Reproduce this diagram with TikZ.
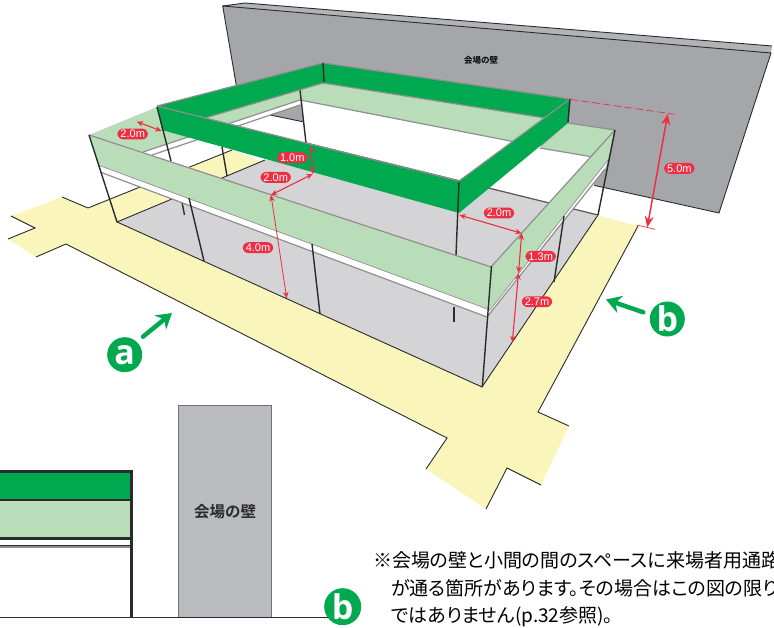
\documentclass[tikz,border=0pt]{standalone}
\usepackage{fontspec}
\setmainfont{Liberation Sans}
\newfontfamily\cjk[RawFeature={+palt}]{Noto Sans CJK JP}
\newfontfamily\cjkb{Noto Sans CJK JP Bold}
\newfontfamily\letterfont{Open Sans Bold}
\definecolor{grn}{HTML}{00A94F}
\definecolor{lgrn}{HTML}{B9DDB8}
\definecolor{ylw}{HTML}{FAF6BB}
\definecolor{flr}{HTML}{D4D4D6}
\definecolor{wal}{HTML}{A5A6AA}
\definecolor{rd}{HTML}{EC2F43}
\definecolor{edg}{HTML}{8F8F8F}
\definecolor{drk}{HTML}{2B2B2B}
\usetikzlibrary{arrows.meta}
\tikzset{
    post/.style={drk,line width=1.4pt},
    rim/.style={edg,line width=1.2pt},
    outline/.style={drk,line width=0.9pt},
    dim/.style={rd,line width=1.1pt,{Stealth[length=6.5pt,width=5.5pt]}-{Stealth[length=6.5pt,width=5.5pt]}},
    bigdim/.style={rd,line width=1.5pt,{Stealth[length=11pt,width=9pt]}-{Stealth[length=11pt,width=9pt]}},
    pill/.style={fill=rd,text=white,rounded corners=6pt,inner xsep=3pt,inner ysep=1.6pt,font=\fontsize{11}{12}\selectfont},
    badge/.style={circle,fill=grn,text=white,minimum size=35pt,inner sep=0pt,font=\letterfont\fontsize{34}{34}\selectfont},
    view/.style={grn,line width=4.5pt,line cap=round,-{Stealth[length=15pt,width=18pt,inset=5pt]}},
    note/.style={anchor=west,inner sep=0pt,font=\cjk\fontsize{19}{20}\selectfont},
}
\begin{document}
\begin{tikzpicture}[x=1pt,y=-1pt]
    \useasboundingbox (0,0) rectangle (774,628);

    % hall wall
    \fill [wal!85!white] (222.7,6) -- (245,3) -- (772,46) -- (771,54) -- cycle;
    \draw [outline] (222.7,6) -- (245,3) -- (772,46);
    \fill [wal] (222.7,6) -- (771,53) -- (719,213) -- (240,107) -- cycle;
    \draw [outline] (240,107) -- (222.7,6) -- (771,53) -- (719,213) -- (240,107);
    \node [font=\cjkb\fontsize{8.5}{9}\selectfont] (wallname) at (481,60.5) {会場の壁};

    % white back panel
    \fill [white] (300,100) -- (590,156) -- (598,215) -- (306,143) -- cycle;

    % yellow aisle
    \fill [ylw] (62,197) -- (88,208) -- (232,150) -- (270,165) -- (482,300) -- (600,216) -- (638,226)
        -- (538,412) -- (569,426) -- (541,485) -- (507,468) -- (486,509) -- (426,469) -- (447,438)
        -- (66,244) -- (36,257) -- (8,239) -- (35,228) -- (11,216) -- cycle;
    \draw [outline] (62,197) -- (88,208) -- (232,150);
    \draw [outline] (11,216) -- (35,228) -- (8,239);
    \draw [outline] (36,257) -- (66,244) -- (447,438) -- (426,469);
    \draw [outline] (486,509) -- (507,468) -- (541,485);
    \draw [outline] (569,426) -- (538,412) -- (638,226);

    % floor
    \fill [flr] (117,222) -- (482,387) -- (598,215) -- (306,143) -- cycle;
    \draw [outline] (265,160) -- (117,222) -- (482,387) -- (598,215);
    \draw [rim,drk!80!white] (306,143) -- (598,215);

    % upper inner faces
    \fill [lgrn] (89,135) -- (157,107) -- (323,83) -- (300,100) -- (143,152) -- cycle;
    \fill [white] (143,152) -- (300,100) -- (300,105) -- (152,155) -- cycle;
    \fill [wal] (270,115) -- (300,105) -- (302.7,121.7) -- cycle;
    \draw [outline] (270,115) -- (302.7,121.7);
    \draw [rim] (143,152) -- (300,100);
    \draw [rim] (152,155) -- (300,105);
    \fill [lgrn] (323,83) -- (545,118) -- (513,141.5) -- (300,100) -- cycle;
    \draw [rim] (300,100) -- (513,141.5);
    \fill [lgrn] (568,123) -- (615,130) -- (590,156.5) -- (540,148) -- cycle;
    \draw [rim] (540,148) -- (590,156.5);
    \draw [rim] (568,123) -- (615,130);

    % posts behind the fascia
    \foreach \xa/\ya/\xb/\yb in {300/90/306/143, 222/147/227/176, 182/202/184.5/215, 454/307/454/322} {
        \draw [post] (\xa,\ya) -- (\xb,\yb);
    }

    % green screen
    \fill [grn] (157,106) -- (323,63) -- (323,83) -- (205,118) -- cycle;
    \fill [grn] (323,63) -- (570,99) -- (568,123) -- (545,118) -- (323,83) -- cycle;
    \fill [grn] (157,106) -- (459,181) -- (459,213) -- (162,130) -- cycle;
    \fill [grn] (459,181) -- (570,99) -- (568,123) -- (459,213) -- cycle;
    \draw [rim] (323,83) -- (545,118);
    \draw [rim] (205,118) -- (323,83);
    \draw [rim] (157,106) -- (323,63) -- (570,99);
    \draw [rim] (157,106) -- (459,181) -- (570,99);
    \foreach \xa/\ya/\xb/\yb in {157/107/171/161, 323/63/324/82, 459/182/456/255, 570/99/568/122} {
        \draw [post] (\xa,\ya) -- (\xb,\yb);
    }

    % fascia and white strip
    \fill [lgrn] (89,135) -- (491,267) -- (490,310) -- (98,165) -- cycle;
    \fill [lgrn] (491,267) -- (615,130) -- (608,160) -- (490,310) -- cycle;
    \fill [white] (98,165) -- (490,310) -- (487,317) -- (100,172) -- cycle;
    \fill [white] (490,310) -- (608,160) -- (605,169) -- (487,317) -- cycle;
    \draw [rim] (89,135) -- (491,267) -- (615,130);
    \draw [rim,line width=0.7pt] (98,165) -- (490,310) -- (608,160);
    \draw [rim] (100,172) -- (487,317) -- (605,169);
    \foreach \xa/\ya/\xb/\yb in {89/135/117/222, 491.5/266/482.3/387, 189/198/204/261, 312/244/320/314, 564/216/554/282, 615/130/598/215} {
        \draw [post] (\xa,\ya) -- (\xb,\yb);
    }

    % sizes
    \coordinate (sideA) at (136.7,121.7);
    \coordinate (sideB) at (161.7,131);
    \coordinate (scrTop) at (311,146);
    \coordinate (scrFoot) at (312.7,174);
    \coordinate (edgeFront) at (271,195);
    \coordinate (floorFront) at (286.7,298.3);
    \coordinate (cornerIn) at (459.3,215);
    \coordinate (cornerOut) at (521.7,233.3);
    \coordinate (fasciaFoot) at (518.5,273);
    \coordinate (floorSide) at (512.3,342.3);
    \coordinate (screenTip) at (570,99.3);
    \coordinate (dashEnd) at (675,114.3);
    \coordinate (topMark) at (667.7,114);
    \coordinate (footMark) at (647.3,227.3);
    \coordinate (tickA) at (636.7,225);
    \coordinate (tickB) at (655,229.3);

    \draw [dim] (sideA) -- (sideB);
    \draw [dim] (scrTop) -- (scrFoot);
    \draw [dim] (scrFoot) -- (edgeFront);
    \draw [dim,line width=0.8pt] (edgeFront) -- (floorFront);
    \draw [dim] (cornerIn) -- (cornerOut);
    \draw [dim] (cornerOut) -- (fasciaFoot);
    \draw [dim] (fasciaFoot) -- (floorSide);
    \draw [rd,line width=0.7pt,dash pattern=on 8pt off 3pt] (screenTip) -- (dashEnd);
    \draw [rd,line width=0.7pt] (tickA) -- (tickB);
    \draw [bigdim] (topMark) -- (footMark);

    \node [pill] (lblA) at (132.7,134) {2.0m};
    \node [pill] (lblB) at (292.3,157.7) {1.0m};
    \node [pill] (lblC) at (275.7,177.3) {2.0m};
    \node [pill] (lblD) at (258,247.7) {4.0m};
    \node [pill] (lblE) at (499,213) {2.0m};
    \node [pill] (lblF) at (540.7,256.3) {1.3m};
    \node [pill] (lblG) at (537,301.7) {2.7m};
    \node [pill] (lblH) at (679.3,168.3) {5.0m};

    % view marks
    \node [badge] (viewa) at (124.7,354.7) {a};
    \node [badge] (viewb) at (667.3,319) {b};
    \coordinate (aimA) at (172,313);
    \coordinate (aimB) at (606,299.5);
    \coordinate (tailA) at (143,336.7);
    \coordinate (tailB) at (643.3,312.3);
    \draw [view] (tailA) -- (aimA);
    \draw [view] (tailB) -- (aimB);

    % side elevation
    \fill [grn] (0,471) rectangle (131,500);
    \fill [lgrn] (0,500) rectangle (131,538);
    \draw [drk,line width=2.7pt] (0,471.3) -- (131.3,471.3);
    \draw [drk,line width=2pt] (0,500.2) -- (131.3,500.2);
    \draw [drk,line width=2.4pt] (0,538.6) -- (131.3,538.6);
    \draw [drk,line width=0.7pt] (0,545.2) -- (131.3,545.2);
    \draw [edg,line width=1.2pt] (0,546.9) -- (131.3,546.9);
    \draw [drk,line width=2.7pt] (131.3,470) -- (131.3,617.5);
    \fill [wal!55!flr] (178,405.3) rectangle (271.7,617.5);
    \draw [edg!80!black,line width=0.9pt] (178,617.5) -- (178,405.3) -- (271.7,405.3) -- (271.7,617.5);
    \node [font=\cjkb\fontsize{15.5}{16}\selectfont,text=drk] (wallname2) at (225,511.5) {会場の壁};
    \coordinate (groundL) at (0,617.6);
    \coordinate (groundR) at (330,617.6);
    \draw [drk,line width=1.7pt] (groundL) -- (groundR);
    \node [badge,minimum size=37pt] (viewc) at (342.7,606.7) {b};

    % note
    \node [note] (noteA) at (373,560) {※会場の壁と小間の間のスペースに来場者用通路};
    \node [note] (noteB) at (391,588.3) {が通る箇所があります。その場合はこの図の限り};
    \node [note] (noteC) at (391,616.7) {ではありません(p.32参照)。};
\end{tikzpicture}
\end{document}
